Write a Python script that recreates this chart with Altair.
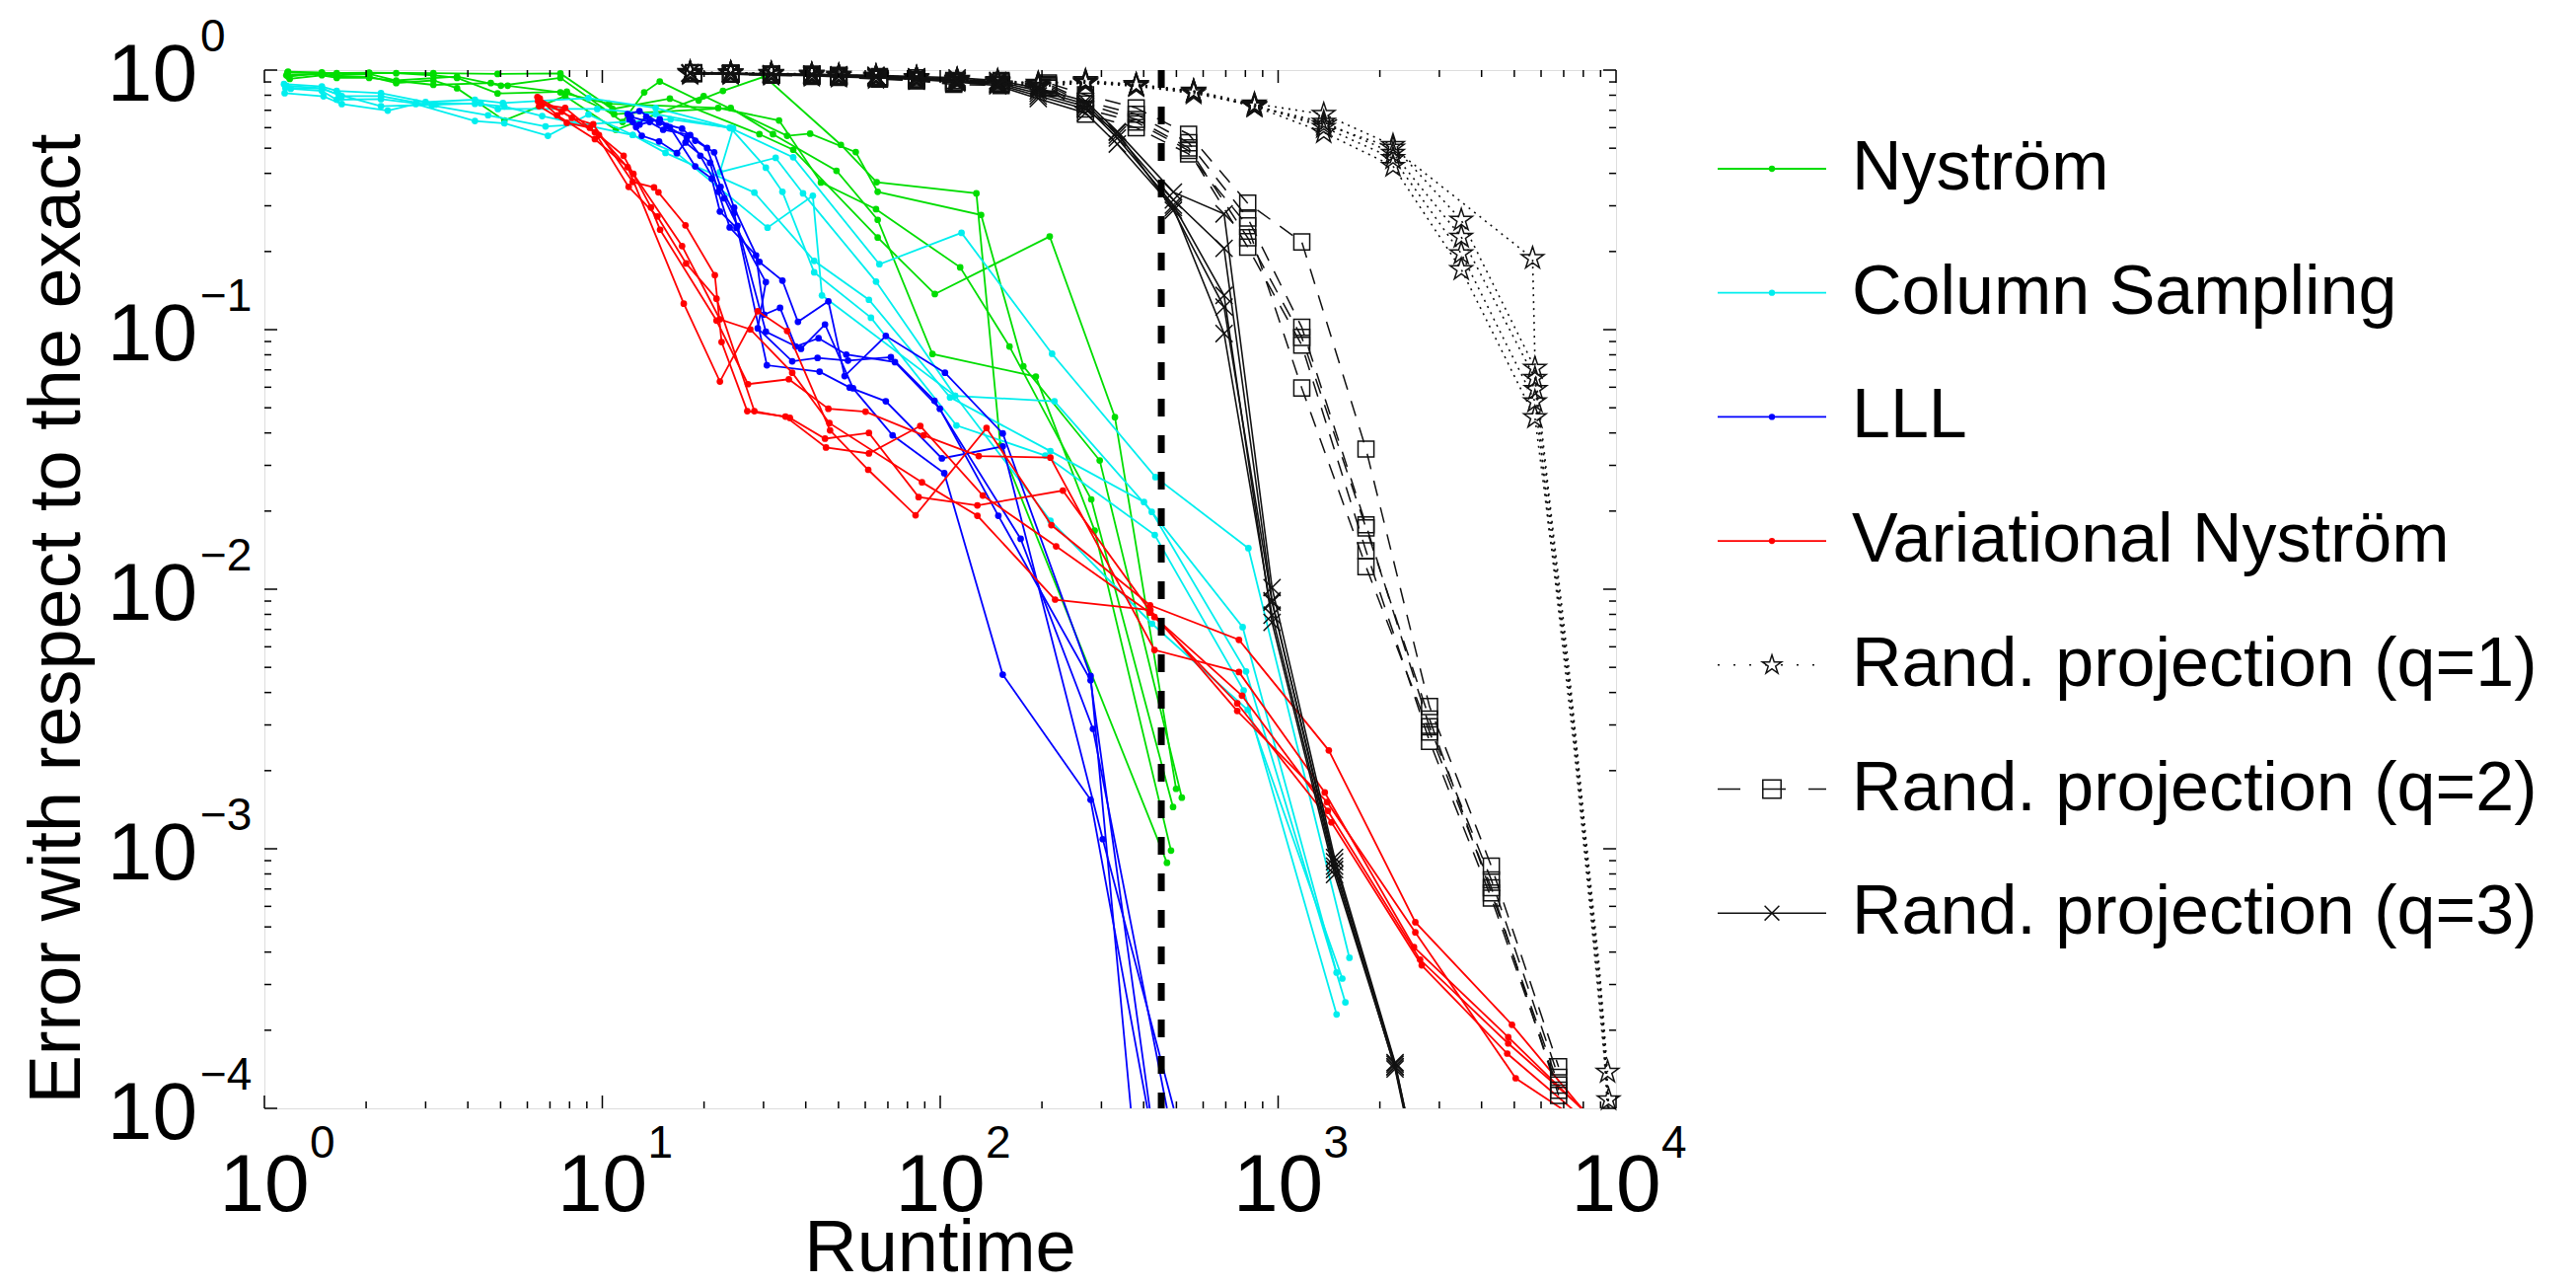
import altair as alt
import pandas as pd

W, H = 1370, 1052
FONT = "Liberation Sans"

# ---------------- data: (log10 runtime, log10 error) ----------------
NYSTROM = [
    [(0.068,-0.010),(0.170,-0.012),(0.310,-0.010),(0.500,-0.012),(0.690,-0.015),(0.876,-0.013),(1.030,-0.150),(1.200,-0.110),(1.465,-0.247),(1.565,-0.307),(1.815,-0.645),(1.984,-0.863),(2.324,-0.641),(2.517,-1.337),(2.698,-2.769)],
    [(0.070,-0.006),(0.170,-0.009),(0.214,-0.020),(0.310,-0.015),(0.390,-0.040),(0.570,-0.025),(0.700,-0.060),(0.876,-0.030),(1.060,-0.200),(1.124,-0.086),(1.170,-0.044),(1.285,-0.117),(1.357,-0.080),(1.480,-0.025),(1.706,-0.288),(1.812,-0.432),(2.107,-0.475),(2.178,-1.447),(2.671,-3.054)],
    [(0.065,-0.020),(0.170,-0.015),(0.214,-0.025),(0.310,-0.025),(0.390,-0.050),(0.500,-0.040),(0.570,-0.070),(0.710,-0.194),(0.890,-0.100),(1.040,-0.230),(1.300,-0.100),(1.547,-0.253),(1.615,-0.245),(1.750,-0.316),(1.815,-0.469),(2.121,-0.558),(2.246,-1.141),(2.472,-1.504),(2.715,-2.803)],
    [(0.075,-0.034),(0.170,-0.020),(0.214,-0.030),(0.310,-0.030),(0.500,-0.057),(0.670,-0.050),(0.720,-0.060),(0.876,-0.086),(1.020,-0.130),(1.343,-0.146),(1.523,-0.194),(1.647,-0.433),(1.810,-0.536),(2.059,-0.760),(2.205,-1.065),(2.447,-1.654),(2.689,-2.839)],
    [(0.070,-0.025),(0.170,-0.012),(0.214,-0.012),(0.310,-0.012),(0.390,-0.012),(0.500,-0.020),(0.570,-0.030),(0.690,-0.090),(0.895,-0.083),(1.035,-0.170),(1.380,-0.146),(1.505,-0.247),(1.693,-0.388),(1.815,-0.577),(1.977,-1.094),(2.283,-1.181),(2.457,-1.774),(2.683,-3.007)],
]

COLUMN_SAMPLING = [
    [(0.058,-0.054),(0.170,-0.063),(0.214,-0.080),(0.345,-0.089),(0.477,-0.123),(0.623,-0.114),(0.706,-0.127),(0.959,-0.108),(1.158,-0.146),(1.377,-0.222),(1.565,-0.336),(1.820,-0.748),(2.063,-0.627),(2.331,-1.093),(2.637,-1.568),(2.912,-1.842),(3.211,-3.420)],
    [(0.060,-0.089),(0.175,-0.101),(0.229,-0.131),(0.365,-0.156),(0.448,-0.131),(0.623,-0.196),(0.710,-0.205),(0.839,-0.253),(0.959,-0.171),(1.090,-0.250),(1.187,-0.319),(1.450,-0.472),(1.627,-0.735),(1.789,-0.885),(2.029,-1.261),(2.326,-1.468),(2.603,-1.664),(2.895,-2.146),(3.173,-3.477)],
    [(0.078,-0.072),(0.170,-0.080),(0.214,-0.114),(0.345,-0.112),(0.496,-0.136),(0.662,-0.174),(0.832,-0.217),(1.202,-0.190),(1.387,-0.224),(1.348,-0.393),(1.513,-0.338),(1.594,-0.475),(1.810,-0.815),(2.044,-1.255),(2.338,-1.276),(2.626,-1.702),(2.905,-2.317),(3.199,-3.592)],
    [(0.062,-0.068),(0.170,-0.072),(0.220,-0.095),(0.345,-0.139),(0.506,-0.133),(0.640,-0.128),(0.691,-0.150),(0.985,-0.150),(1.158,-0.170),(1.380,-0.224),(1.484,-0.376),(1.533,-0.469),(1.627,-0.779),(1.795,-0.954),(2.048,-1.369),(2.311,-1.485),(2.635,-1.791),(2.898,-2.390),(3.173,-3.638)],
    [(0.065,-0.060),(0.170,-0.070),(0.229,-0.100),(0.345,-0.100),(0.450,-0.125),(0.623,-0.130),(0.710,-0.140),(0.822,-0.177),(1.090,-0.250),(1.220,-0.320),(1.489,-0.607),(1.623,-0.484),(1.650,-0.868),(2.044,-1.255),(2.326,-1.736),(2.627,-2.133),(2.910,-2.465),(3.190,-3.500)],
]

LLL = [
    [(1.075,-0.170),(1.110,-0.158),(1.168,-0.203),(1.236,-0.226),(1.275,-0.272),(1.331,-0.317),(1.390,-0.530),(1.465,-0.739),(1.533,-0.811),(1.579,-0.970),(1.669,-0.891),(1.717,-1.179),(1.839,-1.024),(2.014,-1.166),(2.185,-1.400),(2.445,-2.334),(2.564,-4.000)],
    [(1.080,-0.190),(1.117,-0.253),(1.168,-0.275),(1.221,-0.320),(1.246,-0.279),(1.319,-0.357),(1.343,-0.469),(1.377,-0.606),(1.455,-0.714),(1.479,-0.942),(1.526,-0.916),(1.572,-1.065),(1.640,-1.033),(1.722,-1.096),(1.866,-1.125),(1.999,-1.305),(2.172,-1.717),(2.445,-2.351),(2.620,-4.000)],
    [(1.090,-0.200),(1.110,-0.210),(1.170,-0.190),(1.200,-0.220),(1.275,-0.371),(1.324,-0.418),(1.348,-0.545),(1.397,-0.608),(1.484,-0.817),(1.460,-0.995),(1.562,-1.122),(1.637,-1.109),(1.727,-1.119),(1.854,-1.106),(1.983,-1.274),(2.238,-1.806),(2.452,-2.538),(2.671,-4.000)],
    [(1.100,-0.220),(1.130,-0.180),(1.190,-0.215),(1.250,-0.260),(1.290,-0.330),(1.361,-0.494),(1.400,-0.600),(1.484,-1.008),(1.588,-1.074),(1.659,-0.980),(1.742,-1.226),(1.859,-1.407),(2.012,-1.553),(2.185,-2.329),(2.445,-2.811),(2.613,-4.000)],
    [(1.085,-0.180),(1.140,-0.200),(1.180,-0.230),(1.260,-0.250),(1.310,-0.300),(1.350,-0.450),(1.390,-0.550),(1.487,-1.137),(1.643,-1.162),(1.732,-1.223),(1.839,-1.276),(2.005,-1.496),(2.185,-1.450),(2.481,-2.963),(2.691,-4.000)],
]

VARIATIONAL_NYSTROM = [
    [(0.808,-0.104),(0.866,-0.174),(0.978,-0.266),(1.075,-0.374),(1.241,-0.900),(1.348,-1.200),(1.460,-0.929),(1.547,-1.005),(1.674,-1.388),(1.787,-1.540),(1.927,-1.715),(2.137,-1.379),(2.329,-1.753),(2.621,-2.062),(2.884,-2.195),(3.150,-2.621),(3.406,-3.283),(3.692,-3.678),(3.950,-4.080)],
    [(0.813,-0.139),(0.895,-0.203),(0.963,-0.222),(1.063,-0.330),(1.144,-0.529),(1.171,-0.615),(1.338,-0.965),(1.431,-1.210),(1.552,-1.191),(1.669,-1.305),(1.779,-1.316),(1.951,-1.407),(2.114,-1.487),(2.326,-1.493),(2.634,-2.234),(2.884,-2.319),(3.138,-2.783),(3.402,-3.379),(3.681,-3.726),(3.960,-4.080)],
    [(0.815,-0.110),(0.910,-0.184),(0.973,-0.209),(1.090,-0.431),(1.153,-0.452),(1.166,-0.471),(1.246,-0.598),(1.333,-0.790),(1.353,-1.048),(1.429,-1.314),(1.542,-1.335),(1.662,-1.454),(1.789,-1.477),(1.941,-1.371),(2.126,-1.639),(2.343,-1.835),(2.620,-2.090),(2.893,-2.410),(3.147,-2.854),(3.420,-3.427),(3.681,-3.750),(3.970,-4.080)],
    [(0.822,-0.133),(0.890,-0.146),(0.978,-0.240),(1.078,-0.450),(1.163,-0.564),(1.248,-0.745),(1.338,-0.881),(1.450,-1.314),(1.555,-1.340),(1.659,-1.420),(1.789,-1.398),(1.936,-1.645),(2.110,-1.677),(2.363,-1.620),(2.634,-2.107),(2.879,-2.440),(3.158,-2.898),(3.425,-3.449),(3.678,-3.789),(3.940,-4.080)],
    [(0.810,-0.120),(0.880,-0.160),(0.990,-0.250),(1.092,-0.400),(1.236,-0.678),(1.348,-0.960),(1.438,-0.999),(1.562,-1.166),(1.672,-1.360),(1.946,-1.588),(2.110,-1.717),(2.340,-2.040),(2.622,-2.080),(2.879,-2.469),(3.145,-2.820),(3.406,-3.322),(3.703,-3.884),(3.930,-4.080)],
]

# Randomized projection q=1 (stars): marked points, unmarked tail vertices, marked end point
Q1_X = [1.26,1.38,1.50,1.62,1.70,1.81,1.93,2.05,2.17,2.29,2.43,2.58,2.75,2.93,3.135,3.34,3.542,3.76]
Q1_Y = [
    [-0.008,-0.010,-0.012,-0.015,-0.020,-0.022,-0.028,-0.035,-0.040,-0.050,-0.040,-0.055,-0.080,-0.130,-0.170,-0.290,-0.578,-1.148],
    [-0.010,-0.012,-0.015,-0.020,-0.022,-0.025,-0.030,-0.040,-0.045,-0.055,-0.045,-0.060,-0.085,-0.140,-0.200,-0.320,-0.643,-1.187],
    [-0.012,-0.015,-0.018,-0.018,-0.025,-0.028,-0.032,-0.038,-0.050,-0.060,-0.050,-0.062,-0.090,-0.135,-0.220,-0.340,-0.707,-1.277],
    [-0.015,-0.012,-0.014,-0.022,-0.024,-0.030,-0.035,-0.042,-0.048,-0.065,-0.048,-0.058,-0.082,-0.140,-0.240,-0.370,-0.768,-1.338],
]
Q1_X5 = [1.26,1.38,1.50,1.62,1.70,1.81,1.93,2.05,2.17,2.29,2.43,2.58,2.75,2.93,3.135,3.34,3.753,3.762]
Q1_Y5 = [-0.010,-0.011,-0.013,-0.017,-0.020,-0.024,-0.030,-0.036,-0.043,-0.052,-0.044,-0.057,-0.083,-0.137,-0.210,-0.300,-0.725,-1.230]
Q1_TAIL = [
    [(3.800,-1.62),(3.860,-2.30),(3.910,-2.95),(3.950,-3.45)],
    [(3.805,-1.70),(3.865,-2.40),(3.915,-3.05),(3.955,-3.55)],
    [(3.810,-1.80),(3.870,-2.50),(3.920,-3.15),(3.960,-3.70),(3.990,-4.20)],
    [(3.810,-1.85),(3.875,-2.60),(3.925,-3.25),(3.965,-3.80),(3.990,-4.30)],
    [(3.800,-1.75),(3.870,-2.45),(3.920,-3.10),(3.960,-3.65),(3.990,-4.20)],
]
Q1_END = [[(3.975,-3.860)],[(3.978,-3.966)],[],[],[]]

# Randomized projection q=2 (squares)
Q2_X = [1.27,1.38,1.50,1.62,1.70,1.82,1.93,2.04,2.18,2.32,2.43,2.58,2.735,2.91,3.07,3.26,3.448,3.631,3.83]
Q2_Y = [
    [-0.010,-0.012,-0.015,-0.015,-0.020,-0.025,-0.030,-0.040,-0.040,-0.050,-0.095,-0.146,-0.247,-0.513,-0.662,-1.460,-2.452,-3.067,-3.840],
    [-0.012,-0.014,-0.016,-0.018,-0.022,-0.028,-0.035,-0.045,-0.045,-0.055,-0.120,-0.170,-0.280,-0.570,-0.991,-1.752,-2.530,-3.120,-3.880],
    [-0.011,-0.013,-0.017,-0.020,-0.024,-0.030,-0.038,-0.048,-0.050,-0.060,-0.130,-0.190,-0.300,-0.646,-1.030,-1.764,-2.500,-3.170,-3.910],
    [-0.013,-0.015,-0.018,-0.022,-0.026,-0.032,-0.040,-0.050,-0.055,-0.065,-0.150,-0.200,-0.310,-0.682,-1.060,-1.852,-2.586,-3.190,-3.930],
    [-0.014,-0.016,-0.020,-0.024,-0.028,-0.035,-0.042,-0.055,-0.060,-0.070,-0.170,-0.222,-0.323,-0.600,-1.225,-1.913,-2.550,-3.150,-3.950],
]

# Randomized projection q=3 (crosses); last vertex lies below the axis
Q3_X = [1.26,1.38,1.50,1.62,1.70,1.81,1.93,2.05,2.17,2.29,2.43,2.524,2.69,2.84,2.982,3.167,3.346,3.42]
Q3_Y = [
    [-0.010,-0.012,-0.014,-0.015,-0.018,-0.020,-0.025,-0.030,-0.040,-0.070,-0.120,-0.237,-0.470,-0.554,-1.994,-3.034,-3.824,-4.28],
    [-0.011,-0.013,-0.015,-0.017,-0.020,-0.023,-0.028,-0.035,-0.045,-0.080,-0.130,-0.250,-0.500,-0.687,-2.044,-3.067,-3.848,-4.30],
    [-0.012,-0.014,-0.016,-0.019,-0.022,-0.026,-0.030,-0.040,-0.050,-0.090,-0.140,-0.262,-0.520,-0.868,-2.128,-3.099,-3.840,-4.29],
    [-0.013,-0.015,-0.018,-0.020,-0.024,-0.028,-0.033,-0.043,-0.055,-0.100,-0.150,-0.240,-0.540,-0.913,-2.050,-3.050,-3.830,-4.27],
    [-0.014,-0.016,-0.019,-0.022,-0.026,-0.030,-0.036,-0.046,-0.060,-0.110,-0.165,-0.285,-0.530,-1.015,-2.100,-3.080,-3.840,-4.28],
]

THRESHOLD_RUNTIME = 451

X_TICKS_MAJOR = [1, 10, 100, 1000, 10000]
X_TICK_EXP = ["0", "1", "2", "3", "4"]
Y_TICKS_MAJOR = [1, 0.1, 0.01, 0.001, 0.0001]
Y_TICK_EXP = ["0", "\u22121", "\u22122", "\u22123", "\u22124"]

LEGEND_LABELS = ["Nyström", "Column Sampling", "LLL", "Variational Nyström",
                 "Rand. projection (q=1)", "Rand. projection (q=2)", "Rand. projection (q=3)"]

# ---------------- styles ----------------
GREEN, CYAN, BLUE, RED, BLACK = "#00dd00", "#00eeee", "#0000ff", "#ff0000", "#111111"
STAR = "M0,-1L0.2245,-0.309L0.951,-0.309L0.3633,0.118L0.5878,0.809L0,0.382L-0.5878,0.809L-0.3633,0.118L-0.951,-0.309L-0.2245,-0.309Z"
CROSS = "M-1,-1L1,1M-1,1L1,-1"

XS = alt.Scale(type="log", domain=[1, 10000], nice=False)
YS = alt.Scale(type="log", domain=[0.0001, 1], nice=False)


def xenc(f="t"):
    return alt.X(f"{f}:Q", scale=XS, axis=None)


def yenc(f="e"):
    return alt.Y(f"{f}:Q", scale=YS, axis=None)


def build(method, runs):
    rows = []
    for r, run in enumerate(runs):
        for i, p in enumerate(run):
            lt, le = p[0], p[1]
            mk = p[2] if len(p) > 2 else (le > -4.0)
            rows.append({"method": method, "run": f"{method}-{r}", "order": i,
                         "t": 10 ** lt, "e": 10 ** le, "mk": bool(mk)})
    return pd.DataFrame(rows)


q1_runs = []
for k in range(5):
    if k < 4:
        head = [(x, y, True) for x, y in zip(Q1_X, Q1_Y[k])]
    else:
        head = [(x, y, True) for x, y in zip(Q1_X5, Q1_Y5)]
    tail = [(x, y, False) for x, y in Q1_TAIL[k]]
    end = [(x, y, True) for x, y in Q1_END[k]]
    q1_runs.append(head + tail + end)
q2_runs = [list(zip(Q2_X, ys)) for ys in Q2_Y]
q3_runs = [list(zip(Q3_X, ys)) for ys in Q3_Y]

SERIES = [
    (build("nys", NYSTROM), dict(color=GREEN, strokeWidth=1.8), dict(shape="circle", filled=True, size=45, color=GREEN)),
    (build("cs", COLUMN_SAMPLING), dict(color=CYAN, strokeWidth=1.8), dict(shape="circle", filled=True, size=45, color=CYAN)),
    (build("lll", LLL), dict(color=BLUE, strokeWidth=1.8), dict(shape="circle", filled=True, size=45, color=BLUE)),
    (build("vn", VARIATIONAL_NYSTROM), dict(color=RED, strokeWidth=1.8), dict(shape="circle", filled=True, size=45, color=RED)),
    (build("q1", q1_runs), dict(color=BLACK, strokeWidth=1.6, strokeDash=[2, 5]), dict(shape=STAR, filled=False, size=560, color=BLACK, strokeWidth=1.5)),
    (build("q2", q2_runs), dict(color=BLACK, strokeWidth=1.5, strokeDash=[16, 12]), dict(shape="square", filled=False, size=260, color=BLACK, strokeWidth=1.5)),
    (build("q3", q3_runs), dict(color=BLACK, strokeWidth=1.6), dict(shape=CROSS, filled=False, size=300, color=BLACK, strokeWidth=1.5)),
]

layers = []
for df, lstyle, pstyle in SERIES:
    layers.append(alt.Chart(df).mark_line(clip=True, **lstyle).encode(
        x=xenc(), y=yenc(), detail="run:N", order="order:Q"))
    layers.append(alt.Chart(df[df["mk"]]).mark_point(opacity=1, **pstyle).encode(x=xenc(), y=yenc()))

# threshold line
layers.append(alt.Chart(pd.DataFrame({"t": [THRESHOLD_RUNTIME]})).mark_rule(
    color="black", strokeWidth=7, strokeDash=[18, 19]).encode(x=xenc("t"), y=alt.value(0), y2=alt.value(H)))

# ---------------- MATLAB-style inward ticks on all four sides ----------------
x_minor = pd.DataFrame({"v": [k * 10 ** d for d in range(4) for k in range(2, 10)]})
y_minor = pd.DataFrame({"v": [k * 10.0 ** d for d in range(-4, 0) for k in range(2, 10)]})
x_major = pd.DataFrame({"v": X_TICKS_MAJOR})
y_major = pd.DataFrame({"v": Y_TICKS_MAJOR})
for df, ln in ((x_minor, 7), (x_major, 13)):
    layers.append(alt.Chart(df).mark_rule(color="black", strokeWidth=1.5).encode(
        x=xenc("v"), y=alt.value(H), y2=alt.value(H - ln)))
    layers.append(alt.Chart(df).mark_rule(color="black", strokeWidth=1.5).encode(
        x=xenc("v"), y=alt.value(0), y2=alt.value(ln)))
for df, ln in ((y_minor, 7), (y_major, 13)):
    layers.append(alt.Chart(df).mark_rule(color="black", strokeWidth=1.5).encode(
        y=yenc("v"), x=alt.value(0), x2=alt.value(ln)))
    layers.append(alt.Chart(df).mark_rule(color="black", strokeWidth=1.5).encode(
        y=yenc("v"), x=alt.value(W), x2=alt.value(W - ln)))

# ---------------- tick labels 10^k ----------------
xl = pd.DataFrame({"v": X_TICKS_MAJOR, "base": ["10"] * 5, "ex": X_TICK_EXP})
yl = pd.DataFrame({"v": Y_TICKS_MAJOR, "base": ["10"] * 5, "ex": Y_TICK_EXP})
layers.append(alt.Chart(xl).mark_text(font=FONT, fontSize=82, align="center", baseline="alphabetic", color="black").encode(
    x=xenc("v"), y=alt.value(H + 104), text="base:N"))
layers.append(alt.Chart(xl).mark_text(font=FONT, fontSize=46, align="left", baseline="alphabetic", dx=46, color="black").encode(
    x=xenc("v"), y=alt.value(H + 50), text="ex:N"))
layers.append(alt.Chart(yl).mark_text(font=FONT, fontSize=82, align="right", baseline="alphabetic", dy=31, color="black").encode(
    y=yenc("v"), x=alt.value(-68), text="base:N"))
layers.append(alt.Chart(yl).mark_text(font=FONT, fontSize=46, align="left", baseline="alphabetic", dy=-19, color="black").encode(
    y=yenc("v"), x=alt.value(-65), text="ex:N"))

# axis titles
layers.append(alt.Chart(alt.Data(values=[{"s": "Runtime"}])).mark_text(
    font=FONT, fontSize=74, align="center", baseline="alphabetic", color="black").encode(
    x=alt.value(W / 2), y=alt.value(H + 165), text="s:N"))
layers.append(alt.Chart(alt.Data(values=[{"s": "Error with respect to the exact"}])).mark_text(
    font=FONT, fontSize=74, align="center", baseline="alphabetic", angle=270, color="black").encode(
    x=alt.value(-187), y=alt.value(H / 2 + 30), text="s:N"))

# ---------------- legend ----------------
LEG_STYLE = [
    (dict(color=GREEN, strokeWidth=1.8), dict(shape="circle", filled=True, size=40, color=GREEN)),
    (dict(color=CYAN, strokeWidth=1.8), dict(shape="circle", filled=True, size=40, color=CYAN)),
    (dict(color=BLUE, strokeWidth=1.8), dict(shape="circle", filled=True, size=40, color=BLUE)),
    (dict(color=RED, strokeWidth=1.8), dict(shape="circle", filled=True, size=40, color=RED)),
    (dict(color=BLACK, strokeWidth=1.5, strokeDash=[2, 14]), dict(shape=STAR, filled=False, size=420, color=BLACK, strokeWidth=1.5)),
    (dict(color=BLACK, strokeWidth=1.5, strokeDash=[23, 23]), dict(shape="square", filled=False, size=340, color=BLACK, strokeWidth=1.5)),
    (dict(color=BLACK, strokeWidth=1.5), dict(shape=CROSS, filled=False, size=220, color=BLACK, strokeWidth=1.5)),
]
LX0, LX1, LXM, LXT = 1473, 1583, 1528, 1609
for i, (lab, (ls, ps)) in enumerate(zip(LEGEND_LABELS, LEG_STYLE)):
    ly = 100 + i * 125.7
    d = alt.Data(values=[{"label": lab}])
    layers.append(alt.Chart(d).mark_rule(**ls).encode(x=alt.value(LX0), x2=alt.value(LX1), y=alt.value(ly)))
    layers.append(alt.Chart(d).mark_point(opacity=1, **ps).encode(x=alt.value(LXM), y=alt.value(ly)))
    layers.append(alt.Chart(d).mark_text(font=FONT, fontSize=70, align="left", baseline="middle", color="black").encode(
        x=alt.value(LXT), y=alt.value(ly), text="label:N"))

chart = alt.layer(*layers).properties(
    width=W, height=H,
    padding={"left": 260, "top": 63, "right": 965, "bottom": 170},
    autosize=alt.AutoSizeParams(type="none"),
).configure_view(stroke="black", strokeWidth=2.5).configure(background="white")

chart.save("out.html", embed_options={"renderer": "svg", "actions": False})
